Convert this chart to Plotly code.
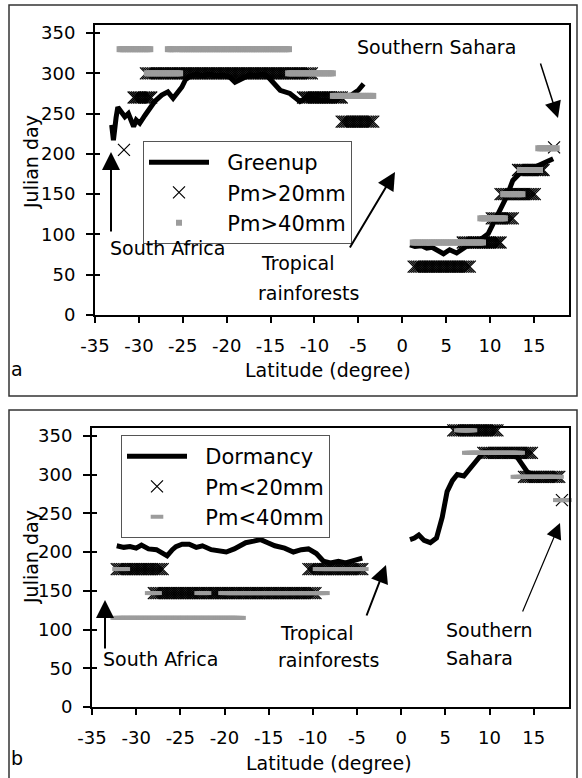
import numpy as np
import plotly.graph_objects as go

# ---------------- data : panel a (greenup) ----------------
green_lat_s = [-33.1, -33.0, -32.9, -32.6, -32.4, -32.0, -31.6, -31.2, -30.6, -30.3, -29.9, -29.3,
               -28.7, -28.2, -27.4, -26.7, -26.1, -25.5, -25.1, -24.7, -24.2, -23.5, -22.8, -22.0,
               -21.2, -20.4, -19.6, -19.05, -18.1, -17.4, -16.6, -15.9, -15.4, -14.7, -13.9, -12.8,
               -12.0, -11.65, -10.9, -10.1, -9.2, -8.2, -7.4, -6.7, -5.8, -5.0, -4.4]
green_day_s = [236, 224, 217, 245, 258, 252, 246, 250, 234, 242, 238, 248,
               256, 265, 273, 277, 269, 277, 283, 292, 296, 299, 297, 299,
               297, 298, 295, 289, 294, 298, 297, 299, 297, 289, 279, 275,
               267, 265, 270, 269, 266, 267, 270, 271, 273, 279, 287]
green_lat_n = [0.9, 1.45, 2.2, 2.8, 3.4, 3.9, 4.7, 5.4, 6.2, 7.3, 8.0, 8.85, 9.8, 10.4, 11.1,
               11.9, 12.6, 13.4, 14.0, 14.8, 15.5, 16.2, 16.8, 17.2]
green_day_n = [87, 85, 86, 83, 84, 81, 76, 81, 77, 85, 88, 93, 101, 114, 130,
               147, 167, 176, 178, 182, 186, 188, 192, 194]

# Pm>20mm : runs of latitude with the same julian day (start, end, day)
p20_start = [-31.7, -30.6, -29.2, -11.3, -6.9, 1.3, 6.9, 10.2, 11.2, 13.2, 17.3]
p20_end = [-31.7, -28.6, -10.3, -6.9, -3.3, 7.7, 11.2, 12.6, 15.1, 16.1, 17.3]
p20_day = [205, 270, 300, 270, 240, 60, 90, 120, 150, 180, 208]

# Pm>40mm
p40_start = [-32.2, -26.7, -25.5, -29.1, -13.0, -7.9, 1.2, 8.9, 11.5, 13.4, 15.5]
p40_end = [-28.7, -25.9, -12.9, -25.3, -7.9, -3.3, 9.2, 11.7, 13.7, 15.7, 17.6]
p40_day = [330, 330, 330, 300, 300, 272, 90, 120, 150, 180, 207]

# ---------------- data : panel b (dormancy) ----------------
dorm_lat_s = [-32.2, -31.4, -30.7, -30.0, -29.4, -28.6, -27.7, -27.0, -26.5, -25.9, -25.5, -24.8,
              -24.0, -23.2, -22.5, -21.5, -20.6, -19.8, -18.9, -17.6, -16.7, -15.9, -15.1, -14.3,
              -13.2, -12.2, -11.3, -10.5, -9.6, -8.8, -8.0, -7.1, -6.3, -5.5, -4.4]
dorm_day_s = [208, 206, 207, 205, 209, 204, 203, 199, 195, 203, 207, 210,
              210, 206, 208, 203, 201, 200, 204, 212, 214, 216, 212, 208,
              205, 200, 203, 204, 198, 188, 186, 188, 186, 188, 192]
dorm_lat_n = [1.0, 1.5, 2.0, 2.6, 3.3, 4.0, 4.65, 5.2, 5.8, 6.35, 7.1, 7.86, 8.6, 9.4,
              10.0, 11.0, 12.3, 13.15, 13.8, 14.3, 15.0, 16.0, 17.0, 17.7]
dorm_day_n = [216, 218, 222, 215, 212, 218, 245, 278, 292, 300, 298, 308, 318, 330,
              328, 327, 326, 322, 312, 303, 300, 298, 296, 294]

# Pm<20mm
q20_start = [-32.2, -10.5, -28.0, 5.9, 9.3, 13.9, 18.2]
q20_end = [-27.0, -4.4, -9.7, 10.9, 14.8, 17.9, 18.2]
q20_day = [178, 178, 147, 357, 328, 297, 267]

# Pm<40mm
q40_start = [-32.0, -9.3, -32.2, -28.3, -22.7, -20.0, 6.7, 7.6, 13.1, 17.9]
q40_end = [-31.4, -4.4, -18.3, -27.8, -22.2, -8.8, 7.9, 13.3, 17.7, 18.6]
q40_day = [178, 178, 115, 147, 147, 147, 357, 328, 297, 267]

x_ticks = [-35, -30, -25, -20, -15, -10, -5, 0, 5, 10, 15]
x_ticktext = ["-35", "-30", "-25", "-20", "-15", "-10", "-5", "0", "5", "10", "15"]
y_ticks = [0, 50, 100, 150, 200, 250, 300, 350]

GRID = 0.2  # latitude resolution of the precipitation runs


def expand(starts, ends, days):
    xs, ys = [], []
    for s, e, d in zip(starts, ends, days):
        n = max(1, int(round((e - s) / GRID)) + 1)
        pts = np.linspace(s, e, n)
        xs.extend(pts.tolist())
        ys.extend([d] * n)
    return xs, ys


W, H = 582, 778
FONT = "DejaVu Sans"
GRAY = "#9c9c9c"
NB = "\u00a0"


def px(x):
    return x / W


def py(y):
    return 1 - y / H


fig = go.Figure()

# ---- panel a traces ----
fig.add_trace(go.Scatter(x=green_lat_s + [None] + green_lat_n, y=green_day_s + [None] + green_day_n,
                         mode="lines", name=NB * 2 + "Greenup", line=dict(color="black", width=5),
                         xaxis="x", yaxis="y", legend="legend"))
xa, ya = expand(p20_start, p20_end, p20_day)
fig.add_trace(go.Scatter(x=xa, y=ya, mode="markers", name=NB * 2 + "Pm>20mm", cliponaxis=False,
                         marker=dict(symbol="x-thin", size=12, line=dict(color="black", width=1.2)),
                         xaxis="x", yaxis="y", legend="legend"))
xa, ya = expand(p40_start, p40_end, p40_day)
fig.add_trace(go.Scatter(x=xa, y=ya, mode="markers", name=NB * 2 + "Pm>40mm", cliponaxis=False,
                         marker=dict(symbol="square", size=6, color=GRAY, line=dict(width=0)),
                         xaxis="x", yaxis="y", legend="legend"))
fig.add_trace(go.Scatter(x=[], y=[], xaxis="x", yaxis="y3", showlegend=False))

# ---- panel b traces ----
fig.add_trace(go.Scatter(x=dorm_lat_s + [None] + dorm_lat_n, y=dorm_day_s + [None] + dorm_day_n,
                         mode="lines", name=NB * 2 + "Dormancy", line=dict(color="black", width=5),
                         xaxis="x2", yaxis="y2", legend="legend2"))
xb, yb = expand(q20_start, q20_end, q20_day)
fig.add_trace(go.Scatter(x=xb, y=yb, mode="markers", name=NB * 2 + "Pm<20mm", cliponaxis=False,
                         marker=dict(symbol="x-thin", size=12, line=dict(color="black", width=1.2)),
                         xaxis="x2", yaxis="y2", legend="legend2"))
xb, yb = expand(q40_start, q40_end, q40_day)
fig.add_trace(go.Scatter(x=xb, y=yb, mode="markers", name=NB * 2 + "Pm<40mm", cliponaxis=False,
                         marker=dict(symbol="line-ew", size=9, line=dict(color=GRAY, width=4)),
                         xaxis="x2", yaxis="y2", legend="legend2"))
fig.add_trace(go.Scatter(x=[], y=[], xaxis="x2", yaxis="y4", showlegend=False))

tickfont = dict(family=FONT, size=18, color="black")
xcommon = dict(range=[-35, 19], tickvals=x_ticks, ticktext=x_ticktext, ticks="outside", ticklen=6,
               tickwidth=1.5, tickcolor="black", showline=True, linewidth=2, linecolor="black",
               mirror=True, showgrid=False, zeroline=False, tickfont=tickfont, ticklabelstandoff=7,
               automargin=False)
ycommon = dict(range=[0, 360], tickvals=y_ticks, ticks="outside", ticklen=7, tickwidth=1.5,
               tickcolor="black", showline=True, linewidth=2, linecolor="black", mirror=True,
               showgrid=False, zeroline=False, tickfont=tickfont, ticklabelstandoff=7,
               automargin=False)
yinner = dict(range=[0, 360], tickvals=y_ticks, ticks="inside", ticklen=5, tickwidth=1.5,
              tickcolor="black", showticklabels=False, showline=False, showgrid=False,
              zeroline=False, side="left", automargin=False)

legfont = dict(family=FONT, size=21, color="black")

fig.update_layout(
    width=W, height=H, margin=dict(l=0, r=0, t=0, b=0, autoexpand=False),
    paper_bgcolor="white", plot_bgcolor="white",
    font=dict(family=FONT, size=18, color="black"),
    xaxis=dict(domain=[95 / W, 569 / W], anchor="y", **xcommon),
    yaxis=dict(domain=[py(315), py(25)], anchor="x", **ycommon),
    yaxis3=dict(overlaying="y", anchor="x", **yinner),
    xaxis2=dict(domain=[92 / W, 569 / W], anchor="y2", **xcommon),
    yaxis2=dict(domain=[py(707), py(428)], anchor="x2", **ycommon),
    yaxis4=dict(overlaying="y2", anchor="x2", **yinner),
    legend=dict(x=px(143), y=py(141), xanchor="left", yanchor="top", font=legfont,
                bordercolor="#555", borderwidth=1, bgcolor="white", itemwidth=60,
                tracegroupgap=0),
    legend2=dict(x=px(121), y=py(435), xanchor="left", yanchor="top", font=legfont,
                 bordercolor="#555", borderwidth=1, bgcolor="white", itemwidth=60,
                 tracegroupgap=0),
    showlegend=True,
)

# outer frames
fig.add_shape(type="rect", xref="paper", yref="paper", x0=px(9), x1=px(577), y0=py(396), y1=py(5),
              line=dict(color="#333", width=1.5), layer="below")
fig.add_shape(type="rect", xref="paper", yref="paper", x0=px(9), x1=px(577), y0=py(790), y1=py(410),
              line=dict(color="#333", width=1.5), layer="below")


def text(t, x, y, anchor="center", size=19, angle=0):
    fig.add_annotation(text=t, x=px(x), y=py(y), xref="paper", yref="paper", showarrow=False,
                       xanchor=anchor, yanchor="middle", font=dict(family=FONT, size=size, color="black"),
                       textangle=angle)


def arrow(tail, tip, width=2, size=1.6):
    fig.add_annotation(text="", x=px(tip[0]), y=py(tip[1]), xref="paper", yref="paper",
                       ax=tail[0] - tip[0], ay=tail[1] - tip[1], showarrow=True,
                       arrowhead=2, arrowsize=size, arrowwidth=width, arrowcolor="black", standoff=0)


# panel a texts
text("Southern Sahara", 436, 47)
text("South Africa", 168, 248)
text("Tropical", 259, 263, anchor="left")
text("rainforests", 256, 293, anchor="left")
text("Latitude (degree)", 328, 370, size=19)
text("a", 17, 369)
text("Julian day", 31, 162, angle=-90)
arrow((111, 233), (111, 152), width=2, size=1.8)
arrow((349, 249), (395, 172), width=2, size=1.8)
arrow((540, 62), (558, 118), width=1.5, size=2.2)

# panel b texts
text("South Africa", 160, 659)
text("Tropical", 278, 633, anchor="left")
text("rainforests", 276, 660, anchor="left")
text("Southern", 444, 630, anchor="left")
text("Sahara", 444, 658, anchor="left")
text("Latitude (degree)", 329, 763, size=19)
text("b", 17, 758)
text("Julian day", 31, 557, angle=-90)
arrow((105, 650), (105, 600), width=2, size=1.8)
arrow((366, 617), (386, 565), width=2, size=1.8)
arrow((522, 613), (560, 523), width=1.2, size=2.6)

fig.write_html("out.html", config={"displayModeBar": False},
               post_script="document.body.style.margin='0px';")
